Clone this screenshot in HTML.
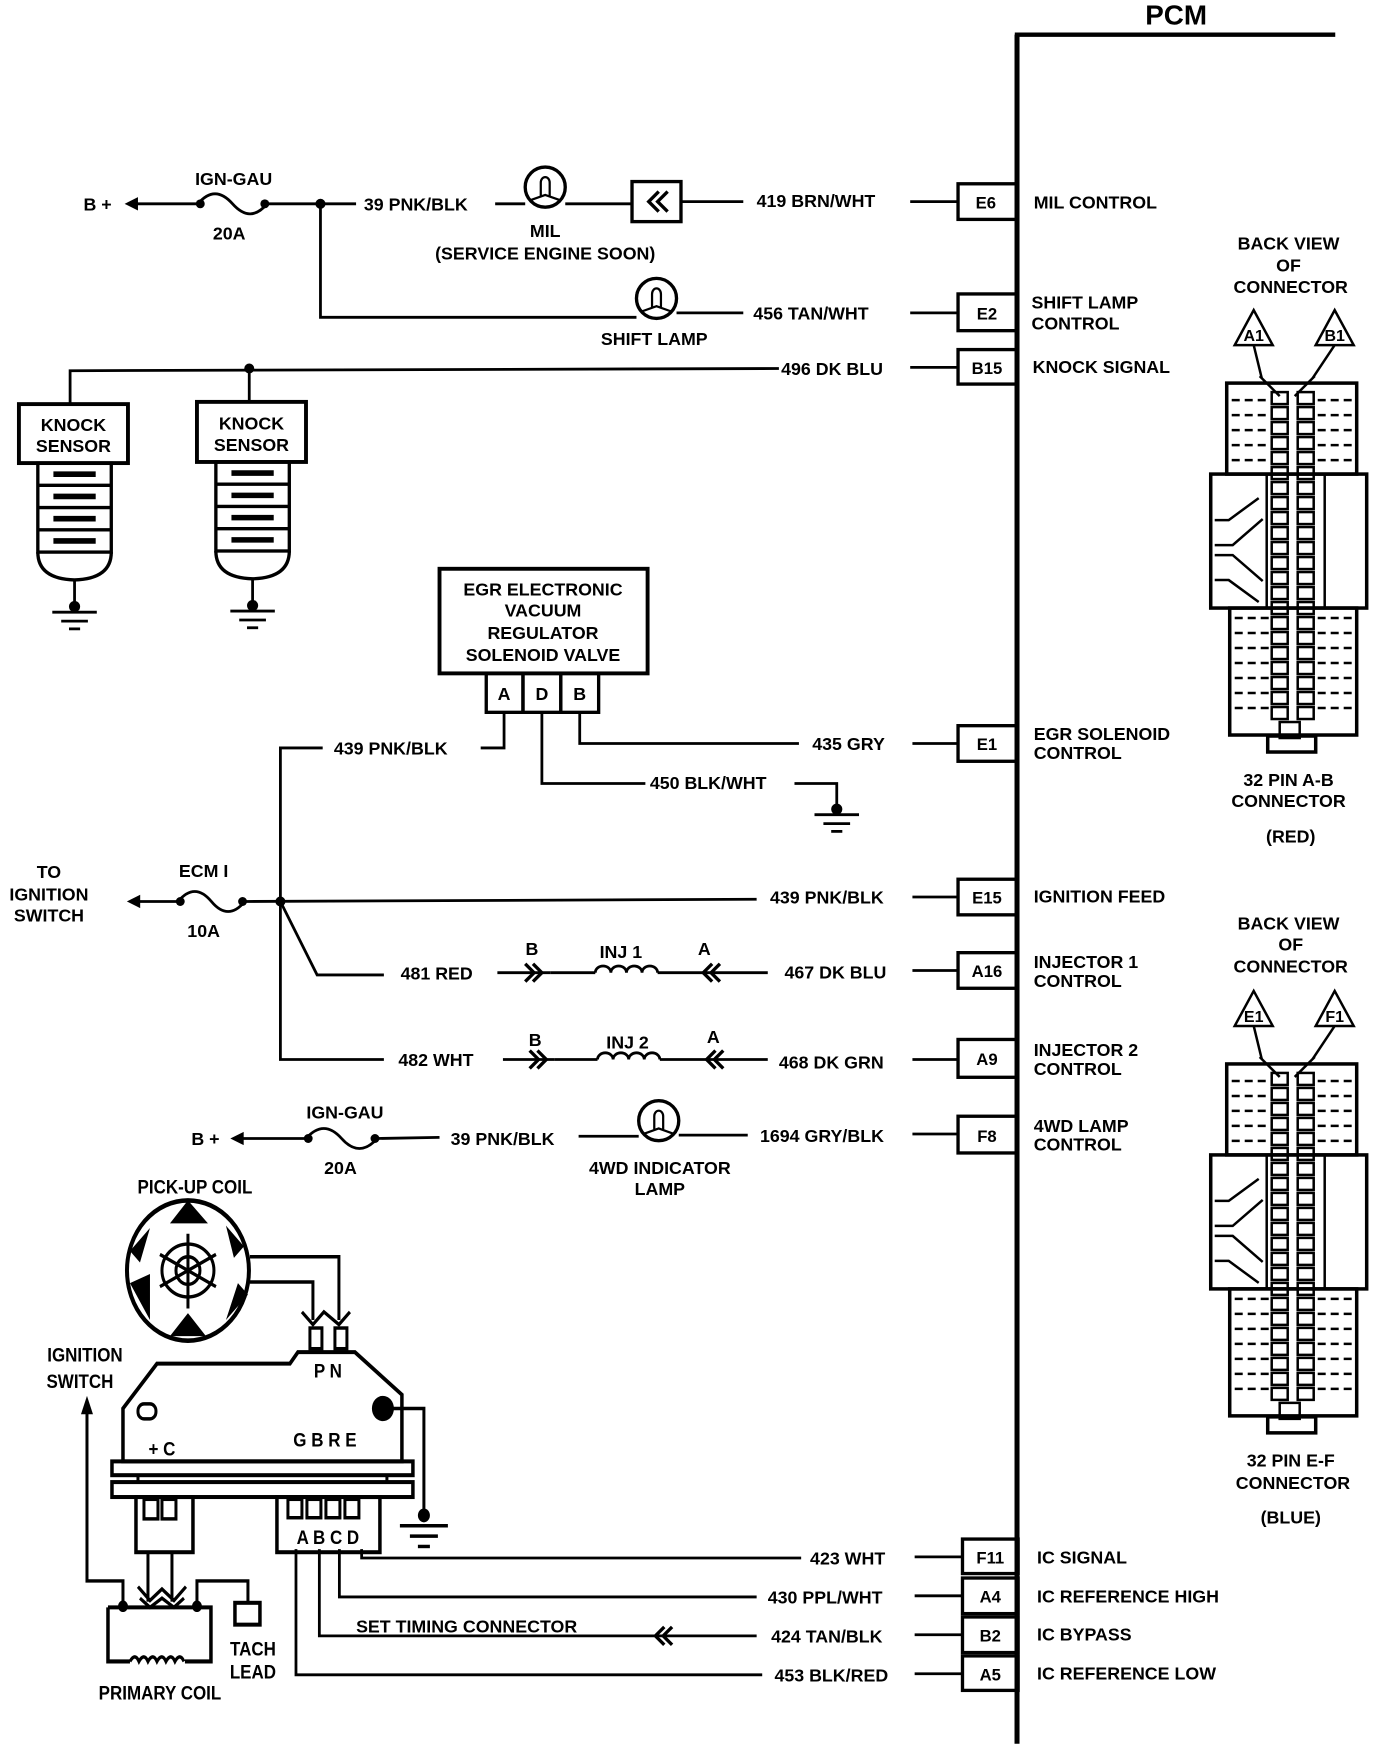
<!DOCTYPE html>
<html><head><meta charset="utf-8"><style>
html,body{margin:0;padding:0;background:#fff;}
svg{display:block;}
text{font-family:"Liberation Sans",sans-serif;font-weight:bold;fill:#000;}
</style></head><body>
<svg width="1392" height="1744" viewBox="0 0 1251 1567" xmlns="http://www.w3.org/2000/svg" font-size="16">
<g fill="none" stroke="#000" stroke-width="2.5">
<line x1="914" y1="31" x2="914" y2="1567" stroke-width="4.5"/>
<line x1="912" y1="31" x2="1200" y2="31" stroke-width="4"/>
<rect x="861" y="165" width="53" height="32" stroke-width="3"/>
<rect x="861" y="264" width="53" height="33" stroke-width="3"/>
<rect x="861" y="314" width="53" height="31" stroke-width="3"/>
<rect x="861" y="652" width="53" height="32" stroke-width="3"/>
<rect x="861" y="790" width="53" height="32" stroke-width="3"/>
<rect x="861" y="856" width="53" height="32" stroke-width="3"/>
<rect x="861" y="934" width="53" height="34" stroke-width="3"/>
<rect x="861" y="1003" width="53" height="33" stroke-width="3"/>
<rect x="865" y="1383" width="50" height="31" stroke-width="3"/>
<rect x="865" y="1418" width="50" height="32" stroke-width="3"/>
<rect x="865" y="1453" width="50" height="32" stroke-width="3"/>
<rect x="865" y="1488" width="50" height="31" stroke-width="3"/>

<line x1="118" y1="183" x2="178" y2="183"/>
<path d="M178,183 q15,-18 31,0 t31,0"/>
<line x1="240" y1="183" x2="320" y2="183"/>
<line x1="445" y1="183" x2="472" y2="183"/>
<line x1="508" y1="183" x2="568" y2="183"/>
<rect x="568" y="163" width="44" height="36" stroke-width="3"/>
<path d="M592,172 l-9,9 l9,9 M600,172 l-9,9 l9,9" stroke-width="3"/>
<line x1="612" y1="181" x2="668" y2="181"/>
<line x1="818" y1="181" x2="861" y2="181"/>
<polyline points="288,183 288,285 572,285"/>
<line x1="608" y1="281" x2="668" y2="281"/>
<line x1="818" y1="281" x2="861" y2="281"/>
<polyline points="63,363 63,333 700,331"/>
<line x1="224" y1="331" x2="224" y2="361"/>
<line x1="818" y1="330" x2="861" y2="330"/>
<rect x="17" y="363" width="98" height="53" stroke-width="3.5"/>
<rect x="177" y="361" width="98" height="54" stroke-width="3.5"/>
<g stroke-width="3">
<rect x="34" y="416" width="66" height="80"/>
<line x1="34" y1="436" x2="100" y2="436"/><line x1="34" y1="456" x2="100" y2="456"/><line x1="34" y1="476" x2="100" y2="476"/>
<path d="M34,496 q0,24 33,25 q33,-1 33,-25"/>
<rect x="194" y="415" width="66" height="80"/>
<line x1="194" y1="435" x2="260" y2="435"/><line x1="194" y1="455" x2="260" y2="455"/><line x1="194" y1="475" x2="260" y2="475"/>
<path d="M194,495 q0,24 33,25 q33,-1 33,-25"/>
</g>
<g stroke-width="5"><line x1="48" y1="426" x2="86" y2="426"/><line x1="48" y1="446" x2="86" y2="446"/><line x1="48" y1="466" x2="86" y2="466"/><line x1="48" y1="486" x2="86" y2="486"/>
<line x1="208" y1="425" x2="246" y2="425"/><line x1="208" y1="445" x2="246" y2="445"/><line x1="208" y1="465" x2="246" y2="465"/><line x1="208" y1="485" x2="246" y2="485"/></g>
<line x1="67" y1="521" x2="67" y2="548"/><line x1="47" y1="550" x2="87" y2="550"/><line x1="55" y1="558" x2="79" y2="558"/><line x1="62" y1="565" x2="72" y2="565"/>
<line x1="227" y1="520" x2="227" y2="546"/><line x1="207" y1="549" x2="247" y2="549"/><line x1="215" y1="557" x2="239" y2="557"/><line x1="222" y1="564" x2="232" y2="564"/>
<rect x="395" y="511" width="187" height="94" stroke-width="3.5"/>
<rect x="437" y="605" width="33" height="35" stroke-width="3"/>
<rect x="470" y="605" width="34" height="35" stroke-width="3"/>
<rect x="504" y="605" width="34" height="35" stroke-width="3"/>
<polyline points="453,640 453,672 432,672"/>
<polyline points="290,672 252,672 252,952 345,952"/>
<polyline points="487,640 487,704 580,704"/>
<polyline points="714,704 752,704 752,728"/>
<line x1="732" y1="732" x2="772" y2="732"/><line x1="740" y1="740" x2="764" y2="740"/><line x1="747" y1="747" x2="757" y2="747"/>
<polyline points="521,640 521,668 718,668"/>
<line x1="820" y1="668" x2="861" y2="668"/>
<line x1="120" y1="810" x2="160" y2="810"/>
<path d="M160,810 q15,-18 30,0 t30,0"/>
<line x1="220" y1="810" x2="680" y2="808"/>
<line x1="820" y1="806" x2="861" y2="806"/>
<polyline points="252,810 285,876 345,876"/>
<line x1="447" y1="874" x2="495" y2="874"/>
<path d="M472,866 l8,8 l-8,8 M479,866 l8,8 l-8,8" stroke-width="3"/>
<line x1="495" y1="874" x2="535" y2="874"/>
<path d="M535,874 a7,6 0 0 1 14,0 a7,6 0 0 1 14,0 a7,6 0 0 1 14,0 a7,6 0 0 1 14,0"/>
<line x1="591" y1="874" x2="690" y2="874"/>
<path d="M640,866 l-8,8 l8,8 M647,866 l-8,8 l8,8" stroke-width="3"/>
<line x1="820" y1="872" x2="861" y2="872"/>
<line x1="452" y1="952" x2="498" y2="952"/>
<path d="M476,944 l8,8 l-8,8 M483,944 l8,8 l-8,8" stroke-width="3"/>
<line x1="498" y1="952" x2="537" y2="952"/>
<path d="M537,952 a7,6 0 0 1 14,0 a7,6 0 0 1 14,0 a7,6 0 0 1 14,0 a7,6 0 0 1 14,0"/>
<line x1="593" y1="952" x2="690" y2="952"/>
<path d="M643,944 l-8,8 l8,8 M650,944 l-8,8 l8,8" stroke-width="3"/>
<line x1="820" y1="952" x2="861" y2="952"/>
<line x1="213" y1="1023" x2="275" y2="1023"/>
<path d="M275,1023 q16,-18 32,0 t32,0"/>
<line x1="339" y1="1023" x2="395" y2="1022"/>
<line x1="520" y1="1021" x2="574" y2="1021"/>
<line x1="610" y1="1020" x2="672" y2="1020"/>
<line x1="820" y1="1019" x2="861" y2="1019"/>
<polyline points="325,1392 325,1400 720,1400"/><line x1="822" y1="1399" x2="865" y2="1399"/>
<polyline points="305,1392 305,1435 680,1435"/><line x1="822" y1="1434" x2="865" y2="1434"/>
<polyline points="287,1392 287,1470 680,1470"/><line x1="822" y1="1469" x2="865" y2="1469"/>
<path d="M597,1462 l-8,8 l8,8 M604,1462 l-8,8 l8,8" stroke-width="3"/>
<polyline points="266,1392 266,1505 685,1505"/><line x1="822" y1="1504" x2="865" y2="1504"/>
</g>
<g fill="#000">
<polygon points="112,183 124,177 124,189"/>
<polygon points="114,810 126,804 126,816"/>
<polygon points="207,1023 219,1017 219,1029"/>
<circle cx="180" cy="183" r="4"/><circle cx="238" cy="183" r="4"/><circle cx="288" cy="183" r="4.5"/>
<circle cx="224" cy="331" r="4.5"/>
<circle cx="67" cy="545" r="5"/><circle cx="227" cy="544" r="5"/><circle cx="752" cy="727" r="5"/>
<circle cx="162" cy="810" r="4"/><circle cx="218" cy="810" r="4"/><circle cx="252" cy="810" r="4.5"/>
<circle cx="277" cy="1023" r="4"/><circle cx="337" cy="1023" r="4"/>
</g>
<g fill="none" stroke="#000" stroke-width="3">
<circle cx="490" cy="168" r="18"/><path d="M486,176 v-12 a4,5 0 0 1 8,0 v12 M476,180 l14,-5 l14,5" stroke-width="2"/>
<circle cx="590" cy="268" r="18"/><path d="M586,276 v-12 a4,5 0 0 1 8,0 v12 M576,280 l14,-5 l14,5" stroke-width="2"/>
<circle cx="592" cy="1007" r="18"/><path d="M588,1015 v-12 a4,5 0 0 1 8,0 v12 M578,1019 l14,-5 l14,5" stroke-width="2"/>
</g>
<text x="1057" y="22" text-anchor="middle" style="font-size:25px">PCM</text>
<g text-anchor="middle" style="font-size:15px">
<text x="886" y="187">E6</text><text x="887" y="287">E2</text><text x="887" y="336">B15</text>
<text x="887" y="674">E1</text><text x="887" y="812">E15</text><text x="887" y="878">A16</text>
<text x="887" y="957">A9</text><text x="887" y="1026">F8</text>
<text x="890" y="1405">F11</text><text x="890" y="1440">A4</text><text x="890" y="1475">B2</text><text x="890" y="1510">A5</text>
</g>
<text x="929" y="187">MIL CONTROL</text>
<text x="927" y="277">SHIFT LAMP</text><text x="927" y="296">CONTROL</text>
<text x="928" y="335">KNOCK SIGNAL</text>
<text x="929" y="665">EGR SOLENOID</text><text x="929" y="682">CONTROL</text>
<text x="929" y="811">IGNITION FEED</text>
<text x="929" y="870">INJECTOR 1</text><text x="929" y="887">CONTROL</text>
<text x="929" y="949">INJECTOR 2</text><text x="929" y="966">CONTROL</text>
<text x="929" y="1017">4WD LAMP</text><text x="929" y="1034">CONTROL</text>
<text x="932" y="1405">IC SIGNAL</text>
<text x="932" y="1440">IC REFERENCE HIGH</text>
<text x="932" y="1474">IC BYPASS</text>
<text x="932" y="1509">IC REFERENCE LOW</text>

<text x="75" y="189">B +</text>
<text x="210" y="166" text-anchor="middle">IGN-GAU</text>
<text x="206" y="215" text-anchor="middle">20A</text>
<text x="327" y="189">39 PNK/BLK</text>
<text x="490" y="213" text-anchor="middle">MIL</text>
<text x="490" y="233" text-anchor="middle">(SERVICE ENGINE SOON)</text>
<text x="680" y="186">419 BRN/WHT</text>
<text x="677" y="287">456 TAN/WHT</text>
<text x="588" y="310" text-anchor="middle">SHIFT LAMP</text>
<text x="702" y="337">496 DK BLU</text>
<text x="66" y="387" text-anchor="middle">KNOCK</text><text x="66" y="406" text-anchor="middle">SENSOR</text>
<text x="226" y="386" text-anchor="middle">KNOCK</text><text x="226" y="405" text-anchor="middle">SENSOR</text>
<g text-anchor="middle">
<text x="488" y="535">EGR ELECTRONIC</text><text x="488" y="554">VACUUM</text><text x="488" y="574">REGULATOR</text><text x="488" y="594">SOLENOID VALVE</text>
<text x="453" y="629">A</text><text x="487" y="629">D</text><text x="521" y="629">B</text>
</g>
<text x="300" y="678">439 PNK/BLK</text>
<text x="730" y="674">435 GRY</text>
<text x="584" y="709">450 BLK/WHT</text>
<g text-anchor="middle"><text x="44" y="789">TO</text><text x="44" y="809">IGNITION</text><text x="44" y="828">SWITCH</text>
<text x="183" y="788">ECM I</text><text x="183" y="842">10A</text>
<text x="478" y="858">B</text><text x="558" y="861">INJ 1</text><text x="633" y="858">A</text>
<text x="481" y="940">B</text><text x="564" y="942">INJ 2</text><text x="641" y="937">A</text>
<text x="310" y="1005">IGN-GAU</text><text x="306" y="1055">20A</text>
<text x="593" y="1055">4WD INDICATOR</text><text x="593" y="1074">LAMP</text>
</g>
<text x="692" y="812">439 PNK/BLK</text>
<text x="360" y="880">481 RED</text>
<text x="705" y="879">467 DK BLU</text>
<text x="358" y="958">482 WHT</text>
<text x="700" y="960">468 DK GRN</text>
<text x="172" y="1029">B +</text>
<text x="405" y="1029">39 PNK/BLK</text>
<text x="683" y="1026">1694 GRY/BLK</text>
<text x="728" y="1406">423 WHT</text>
<text x="690" y="1441">430 PPL/WHT</text>
<text x="320" y="1467">SET TIMING CONNECTOR</text>
<text x="693" y="1476">424 TAN/BLK</text>
<text x="696" y="1511">453 BLK/RED</text>

<!-- module group -->
<g transform="matrix(0.8985,0,0,1.0333,0,-157.2)" style="font-size:17px">
<g fill="none" stroke="#000" stroke-width="3">
<circle cx="188" cy="1257" r="61" stroke-width="4"/>
<circle cx="188" cy="1257" r="12"/>
<ellipse cx="188" cy="1257" rx="26" ry="23"/>
<line x1="188" y1="1225" x2="188" y2="1290"/>
<line x1="160" y1="1243" x2="216" y2="1271"/><line x1="160" y1="1271" x2="216" y2="1243"/>
<polyline points="250,1245 339,1245 339,1300"/>
<polyline points="250,1267 313,1267 313,1300"/>
<path d="M302,1293 l11,11 l11,-11 l15,11 l11,-11"/>
<rect x="310" y="1307" width="12" height="18"/><rect x="335" y="1307" width="12" height="18"/>
<polygon points="123,1423 123,1377 157,1338 290,1338 298,1328 355,1328 402,1365 402,1423" stroke-width="3.5"/>
<rect x="112" y="1423" width="301" height="12" stroke-width="3.5"/>
<rect x="112" y="1441" width="301" height="13" stroke-width="3.5"/>
<line x1="138" y1="1435" x2="138" y2="1441"/><line x1="387" y1="1435" x2="387" y2="1441"/>
<rect x="136" y="1454" width="57" height="48" stroke-width="3.5"/>
<rect x="144" y="1456" width="14" height="17"/><rect x="162" y="1456" width="14" height="17"/>
<rect x="277" y="1454" width="103" height="48" stroke-width="3.5"/>
<rect x="288" y="1456" width="14" height="16"/><rect x="307" y="1456" width="14" height="16"/><rect x="326" y="1456" width="14" height="16"/><rect x="345" y="1456" width="14" height="16"/>
<rect x="138" y="1373" width="18" height="13" rx="6"/>
<polyline points="390,1377 424,1377 424,1468"/>
<line x1="400" y1="1479" x2="448" y2="1479"/><line x1="410" y1="1488" x2="438" y2="1488"/><line x1="418" y1="1497" x2="430" y2="1497"/>
<line x1="148" y1="1502" x2="148" y2="1545"/><line x1="172" y1="1502" x2="172" y2="1545"/>
<path d="M138,1532 l12,12 l12,-10 l12,10 l12,-12"/>
<path d="M140,1542 l10,8 l12,-8 l12,8 l10,-8"/>
<path d="M108,1550 V1597 H130 M185,1597 H211 V1550 H108" stroke-width="3.5"/>
<path d="M130,1597 q5,-8 9,0 q5,-8 9,0 q5,-8 9,0 q5,-8 9,0 q5,-8 9,0 q5,-8 9,0"/>
<polyline points="123,1549 123,1527 87,1527 87,1378"/>
<polyline points="197,1549 197,1527 248,1527 248,1546"/>
<rect x="235" y="1546" width="25" height="19" stroke-width="3.5"/>
</g>
<g fill="#000">
<circle cx="383" cy="1377" r="11"/>
<circle cx="424" cy="1470" r="6"/>
<circle cx="123" cy="1549" r="5"/><circle cx="197" cy="1549" r="5"/>
<polygon points="87,1366 81,1382 93,1382"/>
<polygon points="208,1216 170,1216 188,1196"/>
<polygon points="150,1300 150,1260 130,1268"/>
<polygon points="150,1220 130,1240 140,1250"/>
<polygon points="226,1218 244,1236 234,1246"/>
<polygon points="226,1300 248,1278 238,1268"/>
<polygon points="170,1314 206,1314 188,1294"/>
</g>
<text x="195" y="1190" text-anchor="middle">PICK-UP COIL</text>
<text x="85" y="1336" text-anchor="middle">IGNITION</text>
<text x="80" y="1359" text-anchor="middle">SWITCH</text>
<text x="328" y="1350" text-anchor="middle">P N</text>
<text x="162" y="1418" text-anchor="middle">+ C</text>
<text x="325" y="1410" text-anchor="middle">G B R E</text>
<text x="328" y="1495" text-anchor="middle">A B C D</text>
<text x="253" y="1592" text-anchor="middle">TACH</text>
<text x="253" y="1612" text-anchor="middle">LEAD</text>
<text x="160" y="1630" text-anchor="middle">PRIMARY COIL</text>
</g>

<!-- connectors right -->
<g transform="scale(0.8985)">
<g id="conn">
<g fill="none" stroke="#000" stroke-width="3.5">
<rect x="1227" y="383" width="130" height="91"/>
<rect x="1211" y="474" width="156" height="134"/>
<rect x="1230" y="608" width="127" height="127"/>
<line x1="1267" y1="474" x2="1267" y2="608" stroke-width="2.5"/>
<line x1="1325" y1="474" x2="1325" y2="608" stroke-width="2.5"/>
<rect x="1268" y="736" width="48" height="16"/>
<g stroke-width="2.5">
<rect x="1272" y="392" width="16" height="12"/><rect x="1298" y="392" width="16" height="12"/>
<rect x="1272" y="407" width="16" height="12"/><rect x="1298" y="407" width="16" height="12"/>
<rect x="1272" y="422" width="16" height="12"/><rect x="1298" y="422" width="16" height="12"/>
<rect x="1272" y="437" width="16" height="12"/><rect x="1298" y="437" width="16" height="12"/>
<rect x="1272" y="452" width="16" height="12"/><rect x="1298" y="452" width="16" height="12"/>
<rect x="1272" y="467" width="16" height="12"/><rect x="1298" y="467" width="16" height="12"/>
<rect x="1272" y="482" width="16" height="12"/><rect x="1298" y="482" width="16" height="12"/>
<rect x="1272" y="497" width="16" height="12"/><rect x="1298" y="497" width="16" height="12"/>
<rect x="1272" y="512" width="16" height="12"/><rect x="1298" y="512" width="16" height="12"/>
<rect x="1272" y="527" width="16" height="12"/><rect x="1298" y="527" width="16" height="12"/>
<rect x="1272" y="542" width="16" height="12"/><rect x="1298" y="542" width="16" height="12"/>
<rect x="1272" y="557" width="16" height="12"/><rect x="1298" y="557" width="16" height="12"/>
<rect x="1272" y="572" width="16" height="12"/><rect x="1298" y="572" width="16" height="12"/>
<rect x="1272" y="587" width="16" height="12"/><rect x="1298" y="587" width="16" height="12"/>
<rect x="1272" y="602" width="16" height="12"/><rect x="1298" y="602" width="16" height="12"/>
<rect x="1272" y="617" width="16" height="12"/><rect x="1298" y="617" width="16" height="12"/>
<rect x="1272" y="632" width="16" height="12"/><rect x="1298" y="632" width="16" height="12"/>
<rect x="1272" y="647" width="16" height="12"/><rect x="1298" y="647" width="16" height="12"/>
<rect x="1272" y="662" width="16" height="12"/><rect x="1298" y="662" width="16" height="12"/>
<rect x="1272" y="677" width="16" height="12"/><rect x="1298" y="677" width="16" height="12"/>
<rect x="1272" y="692" width="16" height="12"/><rect x="1298" y="692" width="16" height="12"/>
<rect x="1272" y="707" width="16" height="12"/><rect x="1298" y="707" width="16" height="12"/>
<rect x="1280" y="722" width="20" height="16"/>
<path d="M1232,400 h36 M1318,400 h36 M1232,415 h36 M1318,415 h36 M1232,430 h36 M1318,430 h36 M1232,445 h36 M1318,445 h36 M1232,460 h36 M1318,460 h36 M1235,618 h36 M1318,618 h36 M1235,633 h36 M1318,633 h36 M1235,648 h36 M1318,648 h36 M1235,663 h36 M1318,663 h36 M1235,678 h36 M1318,678 h36 M1235,693 h36 M1318,693 h36 M1235,708 h36 M1318,708 h36" stroke-dasharray="8 5"/>
<path d="M1215,520 h14 l30,-22 M1215,545 h18 l30,-26 M1215,555 h18 l30,26 M1215,580 h14 l30,22"/>
</g>
<path d="M1260,376 l20,20 M1315,376 l-20,20" stroke-width="2.5"/>
</g>
</g>
<use href="#conn" transform="translate(0,681)"/>
<g fill="none" stroke="#000" stroke-width="2.5">
<polygon points="1254,310 1235,345 1273,345"/>
<polygon points="1335,310 1316,345 1354,345"/>
<line x1="1254" y1="345" x2="1262" y2="378"/><line x1="1335" y1="345" x2="1313" y2="378"/>
<polygon points="1254,991 1235,1026 1273,1026"/>
<polygon points="1335,991 1316,1026 1354,1026"/>
<line x1="1254" y1="1026" x2="1262" y2="1059"/><line x1="1335" y1="1026" x2="1313" y2="1059"/>
</g>
<g text-anchor="middle" style="font-size:16px">
<text x="1254" y="341">A1</text><text x="1335" y="341">B1</text>
<text x="1254" y="1022">E1</text><text x="1335" y="1022">F1</text>
</g>
</g>
<g text-anchor="middle">
<text x="1158" y="224">BACK VIEW</text><text x="1158" y="244">OF</text><text x="1160" y="263">CONNECTOR</text>
<text x="1158" y="706">32 PIN A-B</text><text x="1158" y="725">CONNECTOR</text><text x="1160" y="757">(RED)</text>
<text x="1158" y="835">BACK VIEW</text><text x="1160" y="854">OF</text><text x="1160" y="874">CONNECTOR</text>
<text x="1160" y="1318">32 PIN E-F</text><text x="1162" y="1338">CONNECTOR</text><text x="1160" y="1369">(BLUE)</text>
</g>
</svg>
</body></html>
